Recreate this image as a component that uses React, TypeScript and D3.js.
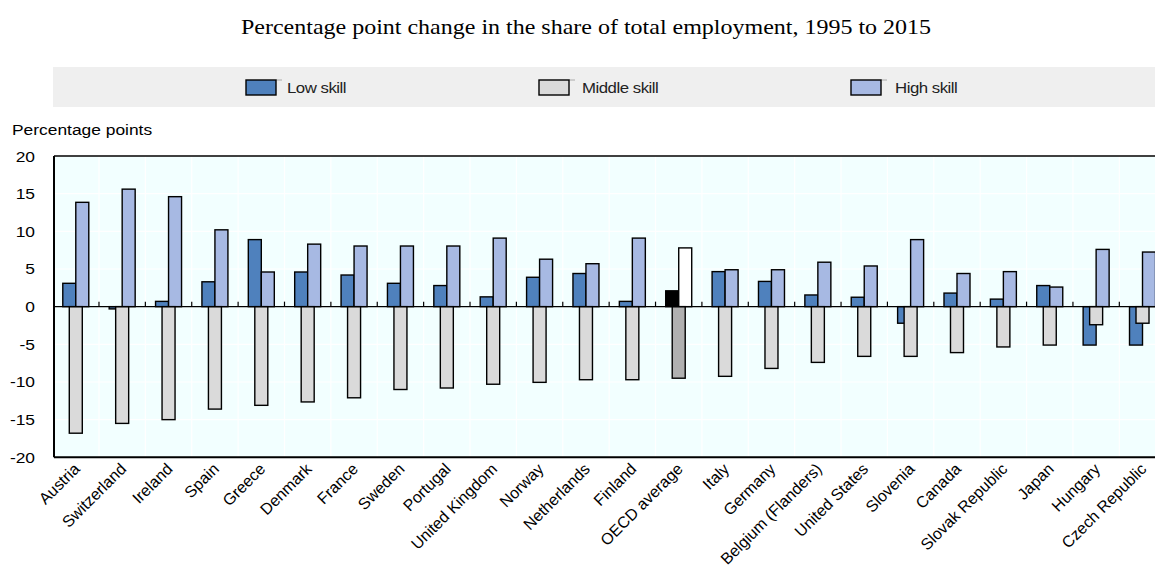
import React, { useEffect } from "react";
import * as d3 from "d3";

// share of total employment, percentage point change 1995-2015
const countries = [
  "Austria", "Switzerland", "Ireland", "Spain", "Greece", "Denmark", "France",
  "Sweden", "Portugal", "United Kingdom", "Norway", "Netherlands", "Finland",
  "OECD average", "Italy", "Germany", "Belgium (Flanders)", "United States",
  "Slovenia", "Canada", "Slovak Republic", "Japan", "Hungary", "Czech Republic",
];
const lowSkill = [
  3.1, -0.3, 0.7, 3.3, 8.9, 4.6, 4.2, 3.1, 2.8, 1.3, 3.9, 4.4, 0.7, 2.1, 4.65,
  3.35, 1.55, 1.25, -2.2, 1.8, 1.0, 2.8, -5.1, -5.1,
];
const middleSkill = [
  -16.8, -15.5, -15.0, -13.6, -13.1, -12.65, -12.1, -11.0, -10.8, -10.3, -10.05,
  -9.7, -9.7, -9.5, -9.25, -8.2, -7.4, -6.6, -6.6, -6.1, -5.35, -5.1, -2.4, -2.2,
];
const highSkill = [
  13.85, 15.6, 14.6, 10.2, 4.6, 8.3, 8.05, 8.05, 8.05, 9.1, 6.3, 5.7, 9.1, 7.8,
  4.9, 4.9, 5.9, 5.4, 8.9, 4.4, 4.65, 2.6, 7.6, 7.25,
];
const yTicks = [20, 15, 10, 5, 0, -5, -10, -15, -20];
const seriesNames = ["Low skill", "Middle skill", "High skill"];

const W = 1155;
const H = 567;
const FONT = "Arial, 'Liberation Sans', sans-serif";
// the original picture is stretched sideways, so text is widened too
const SX = 1.2;

const colors = { low: "#4F81BD", mid: "#DADADA", high: "#A7B9E3" };
const oecdColors = { low: "#000000", mid: "#B0B0B0", high: "#FFFFFF" };

export default function App() {
  useEffect(() => {
    document.body.style.margin = "0";
  }, []);

  const x = d3.scaleBand<string>().domain(countries).range([52.6, 1165.7]);
  const y = d3.scaleLinear().domain([-20, 20]).range([457.3, 156]);
  const bw = 13;
  const plotLeft = 54;
  const plotRight = 1166;

  const barRect = (v: number, left: number, fill: string, key: string) => {
    const y0 = y(0);
    const yv = y(v);
    return (
      <rect
        key={key}
        x={left}
        y={Math.min(y0, yv)}
        width={bw}
        height={Math.abs(yv - y0)}
        fill={fill}
        stroke="#000"
        strokeWidth={1.4}
      />
    );
  };

  const legendItems = [
    { name: seriesNames[0], fill: colors.low, sx: 246, tx: 287 },
    { name: seriesNames[1], fill: colors.mid, sx: 539, tx: 582 },
    { name: seriesNames[2], fill: colors.high, sx: 851, tx: 895 },
  ];

  return (
    <svg width={W} height={H} style={{ display: "block", background: "#fff" }}>
      <text
        transform={`translate(586,34) scale(${SX},1)`}
        textAnchor="middle"
        fontFamily="'Times New Roman', 'Liberation Serif', serif"
        fontSize={20}
        fill="#000"
      >
        Percentage point change in the share of total employment, 1995 to 2015
      </text>

      {/* legend */}
      <rect x={53} y={67} width={W - 53} height={40} fill="#EFEFEF" />
      {legendItems.map((d) => (
        <g key={d.name}>
          <line x1={d.sx + 30} x2={d.sx + 36} y1={80} y2={80} stroke="#999" strokeWidth={0.8} />
          <rect x={d.sx} y={80} width={30} height={15} fill={d.fill} stroke="#000" strokeWidth={1.4} />
          <text
            transform={`translate(${d.tx},93) scale(${SX},1)`}
            fontFamily={FONT}
            fontSize={14}
            letterSpacing={-0.4}
            fill="#222"
          >
            {d.name}
          </text>
        </g>
      ))}

      <text transform={`translate(12,135) scale(${SX},1)`} fontFamily={FONT} fontSize={14.5} fill="#000">
        Percentage points
      </text>

      {/* plot area */}
      <rect x={plotLeft} y={156} width={plotRight - plotLeft} height={457.3 - 156} fill="#F2FFFF" />
      {yTicks.map((t) => (
        <line key={"g" + t} x1={plotLeft} x2={plotRight} y1={y(t)} y2={y(t)} stroke="#fff" strokeWidth={1.2} />
      ))}
      {countries.slice(1).map((c) => (
        <line key={"v" + c} x1={x(c)!} x2={x(c)!} y1={156} y2={457.3} stroke="#fff" strokeWidth={1.2} />
      ))}

      {yTicks.map((t) => (
        <text
          key={"t" + t}
          transform={`translate(35,${y(t) + 5.5}) scale(${SX},1)`}
          textAnchor="end"
          fontFamily={FONT}
          fontSize={14.5}
          fill="#000"
        >
          {t}
        </text>
      ))}

      {/* bars: low and high side by side, middle centred on top */}
      {countries.map((c, i) => {
        const cx = x(c)! + x.bandwidth() / 2;
        const pal = c === "OECD average" ? oecdColors : colors;
        return (
          <g key={"b" + c}>
            {barRect(lowSkill[i], cx - bw, pal.low, "l")}
            {barRect(highSkill[i], cx, pal.high, "h")}
            {barRect(middleSkill[i], cx - bw / 2, pal.mid, "m")}
          </g>
        );
      })}

      {/* zero line and category ticks */}
      <line x1={plotLeft} x2={plotRight} y1={y(0)} y2={y(0)} stroke="#000" strokeWidth={1.2} />
      {countries.slice(1).map((c) => (
        <line key={"k" + c} x1={x(c)!} x2={x(c)!} y1={y(0) - 5} y2={y(0)} stroke="#000" strokeWidth={1.2} />
      ))}

      {/* frame */}
      <line x1={plotLeft} x2={plotRight} y1={156} y2={156} stroke="#000" strokeWidth={1.5} />
      <line x1={plotLeft} x2={plotRight} y1={457.3} y2={457.3} stroke="#000" strokeWidth={2} />
      <line x1={plotLeft} x2={plotLeft} y1={156} y2={457.3} stroke="#000" strokeWidth={2} />

      {countries.map((c) => {
        const cx = x(c)! + x.bandwidth() / 2;
        return (
          <text
            key={"x" + c}
            transform={`translate(${cx + 5},470) rotate(-45)`}
            textAnchor="end"
            fontFamily={FONT}
            fontSize={16}
            fill="#000"
          >
            {c}
          </text>
        );
      })}
    </svg>
  );
}
